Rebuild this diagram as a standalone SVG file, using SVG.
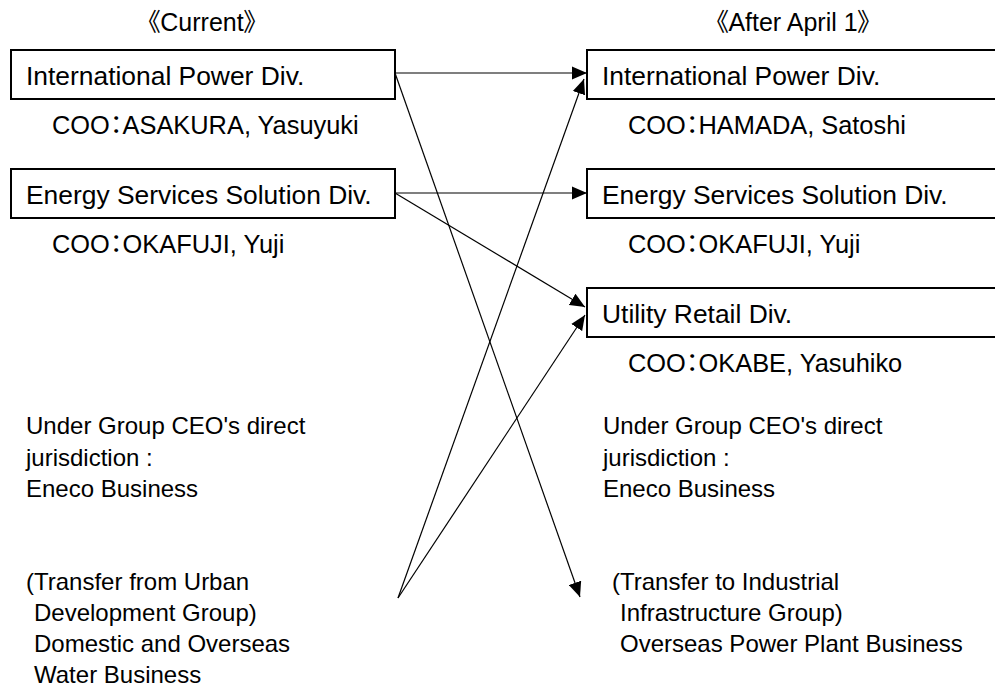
<svg xmlns="http://www.w3.org/2000/svg" width="995" height="689" viewBox="0 0 995 689">
<defs>
<style>
text{font-family:"Liberation Sans","Noto Sans CJK JP",sans-serif;fill:#000;font-feature-settings:"palt"}
.hd{font-size:25px}
.bx{font-size:26.4px}
.coo{font-size:25.4px}
.nt{font-size:24px}
rect.box{fill:#fff;stroke:#000;stroke-width:2}
.con line{stroke:#000;stroke-width:1.2;fill:none;marker-end:url(#ah)}
</style>
<marker id="ah" markerUnits="userSpaceOnUse" markerWidth="16" markerHeight="14" refX="15" refY="6.5" orient="auto" viewBox="0 0 16 13">
<path d="M0,0 L15,6.5 L0,13 z" fill="#000"/>
</marker>
</defs>
<rect width="995" height="689" fill="#fff"/>

<g id="hdr-current"><text class="hd" x="202" y="31" text-anchor="middle">《Current》</text></g>
<g id="hdr-after"><text class="hd" x="793" y="31" text-anchor="middle">《After April 1》</text></g>

<g id="cur-ipd">
<rect class="box" x="11" y="50" width="384" height="49"/>
<text class="bx" x="26" y="85">International Power Div.</text>
<text class="coo" x="52" y="134">COO：ASAKURA, Yasuyuki</text>
</g>
<g id="cur-essd">
<rect class="box" x="11" y="169" width="384" height="49"/>
<text class="bx" x="26" y="204">Energy Services Solution Div.</text>
<text class="coo" x="52" y="253">COO：OKAFUJI, Yuji</text>
</g>
<g id="cur-ceo">
<text class="nt" x="26" y="434">Under Group CEO's direct</text>
<text class="nt" x="26" y="466">jurisdiction :</text>
<text class="nt" x="26" y="497">Eneco Business</text>
</g>
<g id="cur-water">
<text class="nt" x="26" y="590">(Transfer from Urban</text>
<text class="nt" x="34" y="621">Development Group)</text>
<text class="nt" x="34" y="652">Domestic and Overseas</text>
<text class="nt" x="34" y="683">Water Business</text>
</g>

<g id="new-ipd">
<rect class="box" x="587" y="50" width="420" height="49"/>
<text class="bx" x="602" y="85">International Power Div.</text>
<text class="coo" x="628" y="134">COO：HAMADA, Satoshi</text>
</g>
<g id="new-essd">
<rect class="box" x="587" y="169" width="420" height="49"/>
<text class="bx" x="602" y="204">Energy Services Solution Div.</text>
<text class="coo" x="628" y="253">COO：OKAFUJI, Yuji</text>
</g>
<g id="new-urd">
<rect class="box" x="587" y="288" width="420" height="49"/>
<text class="bx" x="602" y="323">Utility Retail Div.</text>
<text class="coo" x="628" y="372">COO：OKABE, Yasuhiko</text>
</g>
<g id="new-ceo">
<text class="nt" x="603" y="434">Under Group CEO's direct</text>
<text class="nt" x="603" y="466">jurisdiction :</text>
<text class="nt" x="603" y="497">Eneco Business</text>
</g>
<g id="new-power">
<text class="nt" x="612" y="590">(Transfer to Industrial</text>
<text class="nt" x="620" y="621">Infrastructure Group)</text>
<text class="nt" x="620" y="652">Overseas Power Plant Business</text>
</g>

<g id="connectors" class="con">
<line x1="395" y1="73" x2="587" y2="73"/>
<line x1="395" y1="73" x2="580" y2="597"/>
<line x1="395" y1="193" x2="587" y2="193"/>
<line x1="395" y1="193" x2="585" y2="307"/>
<line x1="398" y1="598" x2="584" y2="79"/>
<line x1="398" y1="598" x2="585" y2="315"/>
</g>
</svg>
